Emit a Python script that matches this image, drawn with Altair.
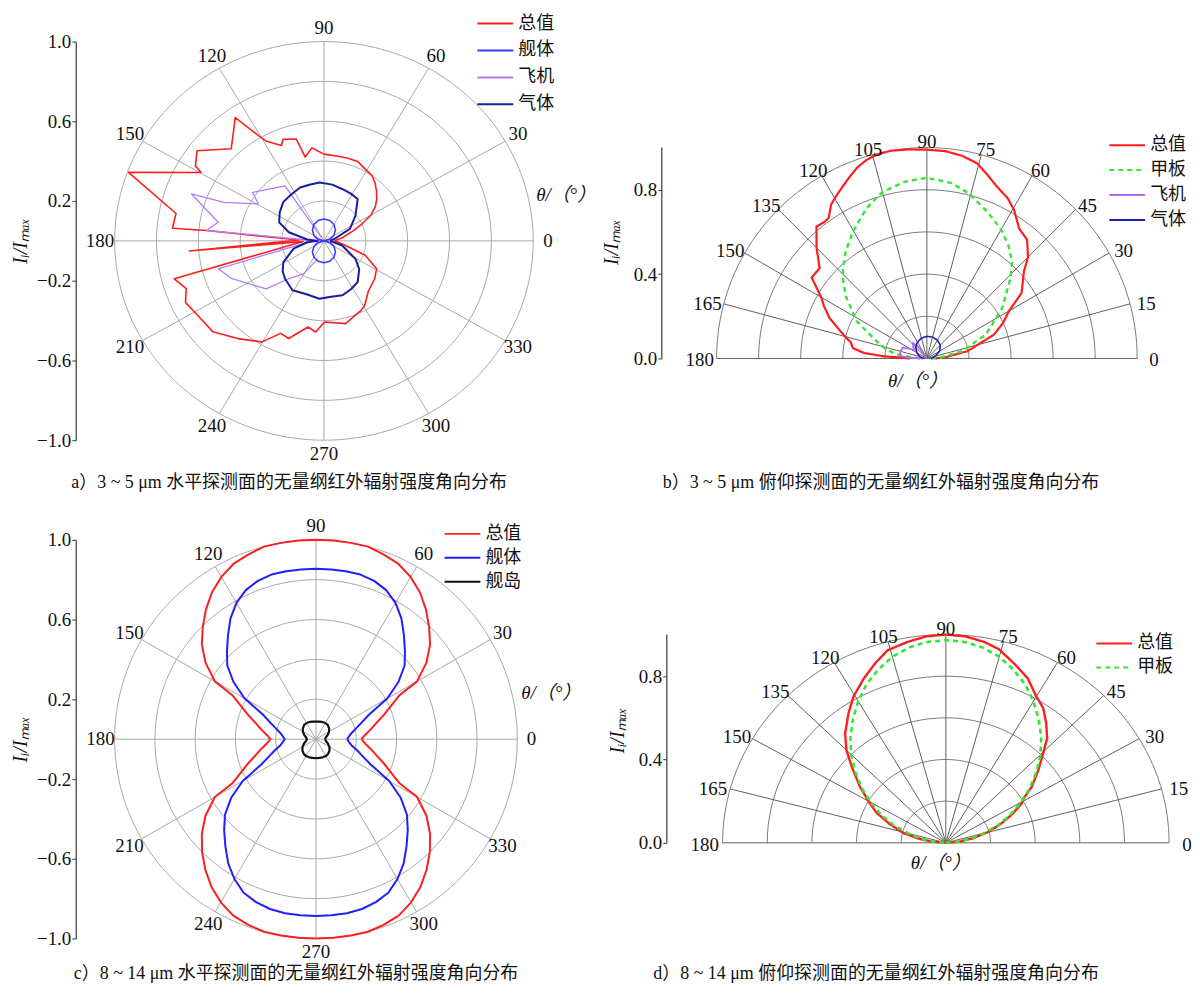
import altair as alt
import pandas as pd

# ---------------- panel a : 3~5 um, horizontal plane ----------------
A_NAMES = ["总值", "舰体", "飞机", "气体"]
A_TOTAL_T = [0, 10, 20, 25, 30, 35, 40, 45, 50, 55, 61, 68, 75, 81, 90, 97, 102, 104.5, 111, 113,
             119, 120.5, 124.4, 133.8, 143.3, 148.5, 149.7, 159.8, 169, 175, 174.7, 178, 184.5, 182,
             194.9, 200, 205, 211.6, 220.6, 230, 239.7, 246, 251, 260, 265, 270.5, 284, 297, 301, 310,
             322, 331, 340, 350, 360]
A_TOTAL_R = [0.05, 0.09, 0.15, 0.2, 0.26, 0.30, 0.33, 0.355, 0.38, 0.40, 0.41, 0.43, 0.43, 0.43, 0.435,
             0.47, 0.43, 0.527, 0.546, 0.52, 0.573, 0.61, 0.75, 0.64, 0.756, 0.72, 0.68, 0.995, 0.72,
             0.727, 0.563, 0.12, 0.645, 0.1, 0.74, 0.70, 0.73, 0.71, 0.70, 0.64, 0.587, 0.508, 0.518,
             0.439, 0.459, 0.407, 0.428, 0.391, 0.378, 0.33, 0.308, 0.288, 0.21, 0.09, 0.05]
A_HULL_T = [0, 15, 30, 45, 60, 75, 90, 105, 120, 135, 150, 165, 180,
            195, 210, 225, 240, 255, 270, 285, 300, 315, 330, 345, 360]
A_HULL_R = [0, 0.03, 0.055, 0.078, 0.095, 0.106, 0.11, 0.106, 0.095, 0.078, 0.055, 0.03, 0,
            0.03, 0.055, 0.078, 0.095, 0.106, 0.11, 0.106, 0.095, 0.078, 0.055, 0.03, 0]
A_PLANE_T = [124, 124, 144.5, 149.5, 158, 159.6, 169.5, 174.7, 178, 195.5, 203, 221, 228.5, 240, 250]
A_PLANE_R = [0.02, 0.333, 0.419, 0.364, 0.516, 0.675, 0.514, 0.563, 0.05, 0.524, 0.481, 0.367, 0.254,
             0.19, 0.1]
A_GAS_T = [0, 11, 26, 40, 52.5, 62, 71, 82, 94, 104, 113, 124, 135, 146, 156.5, 165.6, 175, 180, 185,
           195, 209, 218, 225.6, 238.8, 252, 265.7, 277, 288, 298, 308, 320, 329, 345, 360]
A_GAS_R = [0.03, 0.05, 0.138, 0.197, 0.265, 0.27, 0.274, 0.285, 0.294, 0.29, 0.291, 0.28, 0.275, 0.255,
           0.233, 0.173, 0.08, 0.03, 0.08, 0.15, 0.222, 0.25, 0.266, 0.29, 0.28, 0.291, 0.282, 0.287,
           0.275, 0.262, 0.22, 0.176, 0.09, 0.03]

# ---------------- panel b : 3~5 um, pitch plane ----------------
B_NAMES = ["总值", "甲板", "飞机", "气体"]
B_TOTAL_T = [0, 4, 10.2, 19.5, 25, 29.9, 34.6, 41.8, 45, 49.7, 54.6, 59.5, 63, 68.3, 72, 75.4, 80, 84.8,
             90, 95, 100, 104, 107, 110, 113, 116, 119.5, 122, 125, 127, 130, 135, 140, 145, 150, 153,
             157.5, 161, 165.7, 168, 172, 175, 177, 180]
B_TOTAL_R = [0.04, 0.09, 0.196, 0.338, 0.40, 0.45, 0.547, 0.619, 0.68, 0.737, 0.757, 0.817, 0.85, 0.885,
             0.92, 0.955, 0.975, 0.987, 0.99, 0.995, 1.0, 0.995, 0.984, 0.965, 0.937, 0.91, 0.881, 0.86,
             0.814, 0.81, 0.817, 0.742, 0.666, 0.669, 0.58, 0.55, 0.501, 0.45, 0.396, 0.37, 0.356, 0.30,
             0.21, 0.08]
B_DECK_T = [0, 3, 11.6, 22, 33.7, 43.8, 48.6, 54, 59.2, 64, 68.3, 75.7, 82, 90, 97, 104.9, 112, 120.3,
            127, 133, 138, 143, 152, 161, 167, 172.6, 177, 180]
B_DECK_R = [0.02, 0.06, 0.172, 0.302, 0.431, 0.551, 0.613, 0.66, 0.70, 0.73, 0.757, 0.808, 0.84, 0.857,
            0.845, 0.818, 0.768, 0.697, 0.64, 0.586, 0.535, 0.479, 0.38, 0.255, 0.2, 0.148, 0.06, 0.02]
B_PLANE_T = [110, 125, 132, 140, 146, 152, 156, 163, 170, 175, 178, 180]
B_PLANE_R = [0.0, 0.06, 0.10, 0.085, 0.07, 0.10, 0.126, 0.13, 0.13, 0.125, 0.08, 0.02]
B_GAS_T = [0, 15, 30, 45, 60, 75, 90, 105, 120, 135, 150, 165, 180]
B_GAS_R = [0.02, 0.04, 0.07, 0.09, 0.10, 0.105, 0.105, 0.10, 0.09, 0.075, 0.055, 0.035, 0.02]

# ---------------- panel c : 8~14 um, horizontal plane ----------------
C_NAMES = ["总值", "舰体", "舰岛"]
C_T = [0, 5, 10, 15, 20, 25, 28, 30, 35, 40, 45, 50, 55, 60, 65, 70, 75, 80, 85, 90, 95, 100, 105, 110,
       115, 120, 125, 130, 135, 140, 145, 150, 152, 155, 160, 165, 170, 175, 180,
       185, 190, 195, 200, 205, 208, 210, 215, 220, 225, 230, 235, 240, 245, 250, 255, 260, 265, 270,
       275, 280, 285, 290, 295, 300, 305, 310, 315, 320, 325, 330, 332, 335, 340, 345, 350, 355, 360]
C_TOTAL_R = [0.226, 0.245, 0.275, 0.31, 0.36, 0.42, 0.47, 0.58, 0.67, 0.74, 0.795, 0.85, 0.90, 0.94, 0.97,
             0.985, 1.0, 1.0, 1.0, 1.0, 1.0, 1.0, 1.0, 0.985, 0.97, 0.94, 0.90, 0.85, 0.795, 0.74, 0.67,
             0.58, 0.47, 0.42, 0.36, 0.31, 0.275, 0.245, 0.226,
             0.245, 0.275, 0.31, 0.36, 0.42, 0.47, 0.58, 0.67, 0.74, 0.80, 0.855, 0.905, 0.945, 0.975,
             0.99, 1.0, 1.0, 1.0, 1.0, 1.0, 1.0, 1.0, 0.99, 0.975, 0.945, 0.905, 0.855, 0.80, 0.74, 0.67,
             0.58, 0.47, 0.42, 0.36, 0.31, 0.275, 0.245, 0.226]
C_HULL_R = [0.155, 0.165, 0.18, 0.205, 0.24, 0.29, 0.35, 0.41, 0.50, 0.575, 0.625, 0.68, 0.74, 0.79,
            0.825, 0.845, 0.855, 0.855, 0.855, 0.855, 0.855, 0.855, 0.855, 0.845, 0.825, 0.79, 0.74,
            0.68, 0.625, 0.575, 0.50, 0.41, 0.35, 0.29, 0.24, 0.205, 0.18, 0.165, 0.155,
            0.165, 0.18, 0.21, 0.245, 0.30, 0.36, 0.42, 0.515, 0.59, 0.645, 0.70, 0.76, 0.81, 0.85,
            0.87, 0.882, 0.887, 0.887, 0.887, 0.887, 0.887, 0.882, 0.87, 0.85, 0.81, 0.76, 0.70, 0.645,
            0.59, 0.515, 0.42, 0.36, 0.30, 0.245, 0.21, 0.18, 0.165, 0.155]
C_ISL_T = [0, 10, 20, 30, 40, 50, 60, 70, 80, 90, 100, 110, 120, 130, 140, 150, 160, 170, 180,
           190, 200, 210, 220, 230, 240, 250, 260, 270, 280, 290, 300, 310, 320, 330, 340, 350, 360]
C_ISL_R = [0.045, 0.05, 0.062, 0.075, 0.085, 0.092, 0.094, 0.092, 0.089, 0.088, 0.089, 0.092, 0.094,
           0.092, 0.085, 0.075, 0.062, 0.05, 0.045, 0.05, 0.063, 0.077, 0.088, 0.095, 0.098, 0.097,
           0.095, 0.095, 0.095, 0.097, 0.098, 0.095, 0.088, 0.077, 0.063, 0.05, 0.045]

# ---------------- panel d : 8~14 um, pitch plane ----------------
D_NAMES = ["总值", "甲板"]
D_TOTAL_T = [0, 5, 10, 15, 20, 25, 29.2, 31.5, 35, 40, 43.9, 47.9, 52, 56, 60.5, 65, 70, 75.7, 80, 85,
             90, 95, 100, 105.7, 110, 115, 120.5, 125, 130.6, 135, 139, 145, 150, 155, 160, 166, 170,
             175, 180]
D_TOTAL_R = [0, 0.06, 0.12, 0.19, 0.26, 0.33, 0.39, 0.41, 0.47, 0.54, 0.60, 0.677, 0.73, 0.78, 0.816,
             0.87, 0.91, 0.96, 0.98, 0.995, 1.0, 0.995, 0.98, 0.961, 0.92, 0.87, 0.815, 0.76, 0.693,
             0.63, 0.559, 0.47, 0.40, 0.343, 0.27, 0.197, 0.13, 0.065, 0]
D_DECK_T = [0, 5, 10, 15, 20, 25, 30, 35, 40, 45, 50, 55, 60, 65, 70, 75, 80, 85, 90, 95, 100, 105,
            110, 115, 120, 125, 130, 135, 140, 145, 150, 155, 160, 165, 170, 175, 180]
D_DECK_R = [0, 0.05, 0.11, 0.175, 0.25, 0.32, 0.39, 0.46, 0.53, 0.60, 0.665, 0.725, 0.785, 0.84, 0.885,
            0.925, 0.952, 0.968, 0.973, 0.968, 0.952, 0.925, 0.885, 0.84, 0.785, 0.725, 0.665, 0.60,
            0.53, 0.46, 0.39, 0.32, 0.25, 0.175, 0.11, 0.05, 0]

# ---------------- grid / labels ----------------
RINGS = [0.2, 0.4, 0.6, 0.8, 1.0]
FULL_SPOKES = [0, 30, 60, 90, 120, 150, 180, 210, 240, 270, 300, 330]
HALF_SPOKES = [0, 15, 30, 45, 60, 75, 90, 105, 120, 135, 150, 165, 180]
Y_TICKS_FULL = [1.0, 0.6, 0.2, -0.2, -0.6, -1.0]
Y_TICKS_HALF = [0.0, 0.4, 0.8]
Y_TITLE = "Iᵢ/Iₘₐₓ"
THETA_TEXT = "θ/（°）"
CAPTION_A = "a）3 ~ 5 μm 水平探测面的无量纲红外辐射强度角向分布"
CAPTION_B = "b）3 ~ 5 μm 俯仰探测面的无量纲红外辐射强度角向分布"
CAPTION_C = "c）8 ~ 14 μm 水平探测面的无量纲红外辐射强度角向分布"
CAPTION_D = "d）8 ~ 14 μm 俯仰探测面的无量纲红外辐射强度角向分布"

SERIF = "Liberation Serif"
CJK = "Noto Sans CJK SC"
MIXED = "Liberation Serif, Noto Sans CJK SC"
AX = "#555555"
TXT = "#111111"


def series_frame(name, ts, rs):
    return pd.DataFrame({"series": name, "i": list(range(len(ts))), "t": ts, "r": rs})


def build_panel(series, names, colors, widths, dashes, full, w, h, xmin, ymax,
                ring_color, spoke_color, axis_offset, title_x, title_y,
                legend_x, legend_y, row_pad, lab_rx, lab_ry, lab_dy,
                theta_xy, caption, caption_xy):
    xs = alt.Scale(domain=[xmin, 1], nice=False, zero=False)
    ys = alt.Scale(domain=[-1, 1] if full else [0, ymax], nice=False, zero=False)
    yaxis = alt.Axis(values=Y_TICKS_FULL if full else Y_TICKS_HALF, format=".1f",
                     offset=axis_offset, domain=full, domainColor=AX, domainWidth=1.4,
                     tickColor=AX, tickSize=4, tickWidth=1.2, grid=False,
                     labelFont=SERIF, labelFontSize=19, labelColor=TXT, labelPadding=1,
                     title=Y_TITLE, titleFont=SERIF, titleFontSize=20, titleFontStyle="italic",
                     titleFontWeight="normal", titleColor=TXT, titleX=title_x,
                     titleY=title_y, titleBaseline="middle", titleAngle=270)
    X = lambda f: alt.X(f, scale=xs, axis=None)
    Y = lambda f: alt.Y(f, scale=ys, axis=yaxis)
    tmax = 360 if full else 180
    spokes = FULL_SPOKES if full else HALF_SPOKES

    ring_df = pd.DataFrame([{"ring": rr, "t": t} for rr in RINGS for t in range(0, tmax + 1, 2)])
    rings = alt.Chart(ring_df).transform_calculate(
        x="datum.ring * cos(datum.t * PI / 180)",
        y="datum.ring * sin(datum.t * PI / 180)",
    ).mark_line(color=ring_color, strokeWidth=1).encode(
        x=X("x:Q"), y=Y("y:Q"), detail="ring:N", order="t:Q")

    spoke_lines = alt.Chart(pd.DataFrame({"t": spokes})).transform_calculate(
        x0="0", y0="0",
        x1="cos(datum.t * PI / 180)", y1="sin(datum.t * PI / 180)",
    ).mark_rule(color=spoke_color, strokeWidth=1).encode(
        x=X("x0:Q"), y=Y("y0:Q"), x2="x1:Q", y2="y1:Q")

    layers = [rings, spoke_lines]
    if not full:
        axis_line = alt.Chart(pd.DataFrame({"lo": [0.0], "hi": [1.0]})).mark_rule(
            color=AX, strokeWidth=1.4).encode(
            x=alt.value(-axis_offset), y=Y("lo:Q"), y2="hi:Q")
        layers.append(axis_line)

    cscale = alt.Scale(domain=names, range=colors)
    legend = alt.Legend(title=None, orient="none", legendX=legend_x, legendY=legend_y,
                        symbolType="M-1,0H3", symbolSize=324, symbolStrokeWidth=2,
                        labelFont=CJK, labelFontSize=18, labelColor=TXT,
                        labelOffset=22, rowPadding=row_pad, padding=0)
    for (name, ts, rs), sw in zip(series, widths):
        enc = dict(x=X("x:Q"), y=Y("y:Q"), order="i:Q",
                   color=alt.Color("series:N", scale=cscale, legend=legend))
        if dashes:
            enc["strokeDash"] = alt.StrokeDash(
                "series:N", scale=alt.Scale(domain=names, range=dashes), legend=legend)
        layers.append(
            alt.Chart(series_frame(name, ts, rs)).transform_calculate(
                x="datum.r * cos(datum.t * PI / 180)",
                y="datum.r * sin(datum.t * PI / 180)",
            ).mark_line(strokeWidth=sw, strokeJoin="round").encode(**enc))

    labels = alt.Chart(pd.DataFrame({"t": spokes})).transform_calculate(
        x=f"{lab_rx} * cos(datum.t * PI / 180)",
        y=f"{lab_ry} * sin(datum.t * PI / 180)",
        txt="toString(datum.t)",
    ).mark_text(font=SERIF, fontSize=19, color=TXT, dy=lab_dy).encode(
        x=X("x:Q"), y=Y("y:Q"), text="txt:N")
    layers.append(labels)

    theta = alt.Chart(pd.DataFrame({"s": [THETA_TEXT]})).mark_text(
        font=MIXED, fontSize=19, fontStyle="italic", color=TXT).encode(
        x=alt.value(theta_xy[0]), y=alt.value(theta_xy[1]), text="s:N")
    cap = alt.Chart(pd.DataFrame({"s": [caption]})).mark_text(
        font=MIXED, fontSize=18, color=TXT).encode(
        x=alt.value(caption_xy[0]), y=alt.value(caption_xy[1]), text="s:N")
    layers += [theta, cap]
    return alt.layer(*layers).properties(width=w, height=h)


RED = "#ff1e1e"
pa = build_panel(
    [("总值", A_TOTAL_T, A_TOTAL_R), ("飞机", A_PLANE_T, A_PLANE_R),
     ("气体", A_GAS_T, A_GAS_R), ("舰体", A_HULL_T, A_HULL_R)],
    A_NAMES, [RED, "#3a3aff", "#b57cff", "#1c1c9c"], [1.6, 1.3, 2.0, 1.6], None,
    True, 420, 400, -1.0, 1.0, "#a8a8a8", "#a8a8a8", 39, -55, 200,
    363, -28, 8, 1.07, 1.07, 0, (453, 154), CAPTION_A, (175, 443))

pb = build_panel(
    [("总值", B_TOTAL_T, B_TOTAL_R), ("甲板", B_DECK_T, B_DECK_R),
     ("飞机", B_PLANE_T, B_PLANE_R), ("气体", B_GAS_T, B_GAS_R)],
    B_NAMES, [RED, "#33e833", "#b266ff", "#2020b0"], [2.2, 2.4, 1.8, 1.6],
    [[1, 0], [5, 4], [1, 0], [1, 0]],
    False, 422, 318, -1.0, 318 / 211.6, "#7a7a7a", "#606060", 55, -50, 201,
    393, 94, 6, 1.08, 1.035, 2, (202, 341), CAPTION_B, (165, 443))

pc = build_panel(
    [("总值", C_T, C_TOTAL_R), ("舰体", C_T, C_HULL_R), ("舰岛", C_ISL_T, C_ISL_R)],
    C_NAMES, [RED, "#1f1fff", "#111111"], [2.0, 2.0, 2.2], None,
    True, 404, 400, -1.0, 1.0, "#a8a8a8", "#a8a8a8", 39, -55, 200,
    330, -16, 5, 1.07, 1.07, 0, (438, 154), CAPTION_C, (182, 436))

# panel d's plot starts 6 px left of its reference position (grid column is shared with b),
# so its x domain reaches a little past -1 to keep 224 px per unit around the same centre
pd_ = build_panel(
    [("总值", D_TOTAL_T, D_TOTAL_R), ("甲板", D_DECK_T, D_DECK_R)],
    D_NAMES, [RED, "#33e833"], [2.4, 2.6], [[1, 0], [5, 4]],
    False, 454, 304, -1.0268, 304 / 209.0, "#7a7a7a", "#606060", 50, -49, 191,
    380, 94, 5, 1.08, 1.035, 2, (225, 324), CAPTION_D, (160, 436))

chart = alt.concat(pa, pb, pc, pd_, columns=2, spacing={"row": 100, "column": 184},
                   bounds="flush").resolve_scale(
    x="independent", y="independent", color="independent", strokeDash="independent"
).properties(padding={"left": 3, "top": 4, "right": 0, "bottom": 0},
             background="white").configure_view(stroke=None)

chart.save("out.html", embed_options={"renderer": "svg", "actions": False})
